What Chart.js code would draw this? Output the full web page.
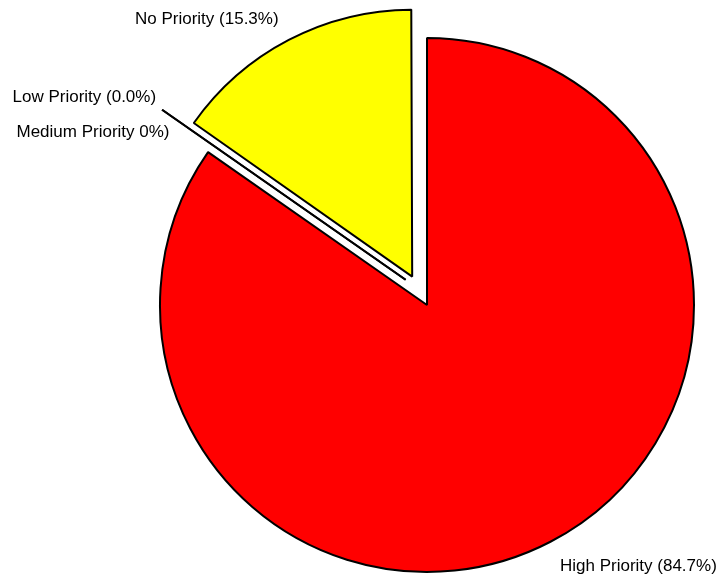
<!DOCTYPE html>
<html><head><meta charset="utf-8">
<script src="https://cdn.jsdelivr.net/npm/chart.js@4"></script>
<style>html,body{margin:0;padding:0;background:#fff;overflow:hidden}</style>
</head><body><canvas id="c" width="718" height="576"></canvas>
<script>
const categories = ['High Priority', 'Low Priority', 'Medium Priority', 'No Priority'];
const values = [84.7, 0, 0, 15.3];
const sliceLabels = ['High Priority (84.7%)', 'Low Priority (0.0%)', 'Medium Priority 0%)', 'No Priority (15.3%)'];
const colors = ['#ff0000', '#ffffff', '#ffffff', '#ffff00'];
const explode = [0, 0, 0, 128];

// label anchor positions (left x, baseline y)
const labelPos = [[560, 571], [12.5, 102], [16.5, 136.5], [135, 24]];

const zeroSlicePlugin = {
  id: 'zeroSlices',
  beforeDatasetsDraw(chart) {
    // keep exploded slices at the same radius as the others
    const meta = chart.getDatasetMeta(0);
    meta.data.forEach((arc, i) => {
      const off = (explode[i] || 0) / 4;
      if (!off || arc.circumference === 0) return;
      const fix = 1 - Math.sin(Math.min(Math.PI, arc.circumference));
      arc._origR = arc.outerRadius;
      arc.outerRadius = arc.outerRadius - off * fix;
    });
  },
  afterDatasetsDraw(chart) {
    const ctx = chart.ctx;
    const meta = chart.getDatasetMeta(0);
    meta.data.forEach((arc) => {
      if (arc._origR !== undefined) { arc.outerRadius = arc._origR; delete arc._origR; }
    });
    meta.data.forEach((arc, i) => {
      if (values[i] !== 0) return;
      const p = arc.getProps(['x', 'y', 'startAngle', 'outerRadius']);
      const ux = Math.cos(p.startAngle), uy = Math.sin(p.startAngle);
      const nx = -uy, ny = ux;
      const perp = 8.5;
      const a0 = 32, a1 = p.outerRadius + 62;
      ctx.save();
      ctx.strokeStyle = '#000';
      ctx.lineWidth = 2;
      ctx.beginPath();
      ctx.moveTo(p.x + ux * a0 + nx * perp, p.y + uy * a0 + ny * perp);
      ctx.lineTo(p.x + ux * a1 + nx * perp, p.y + uy * a1 + ny * perp);
      ctx.stroke();
      ctx.restore();
    });
    ctx.save();
    ctx.fillStyle = '#000';
    ctx.font = '17px "Liberation Sans", Arial, sans-serif';
    ctx.textAlign = 'left';
    ctx.textBaseline = 'alphabetic';
    sliceLabels.forEach((t, i) => {
      ctx.fillText(t, labelPos[i][0], labelPos[i][1]);
    });
    ctx.restore();
  }
};

new Chart(document.getElementById('c'), {
  type: 'pie',
  data: {
    labels: categories,
    datasets: [{
      data: values,
      backgroundColor: colors,
      borderColor: '#000',
      borderWidth: 2,
      offset: explode
    }]
  },
  options: {
    responsive: false,
    animation: false,
    radius: 267,
    layout: { padding: { left: 136, right: 0, top: 34, bottom: 0 } },
    plugins: { legend: { display: false }, tooltip: { enabled: false } },
    events: []
  },
  plugins: [zeroSlicePlugin]
});
</script>
</body></html>
